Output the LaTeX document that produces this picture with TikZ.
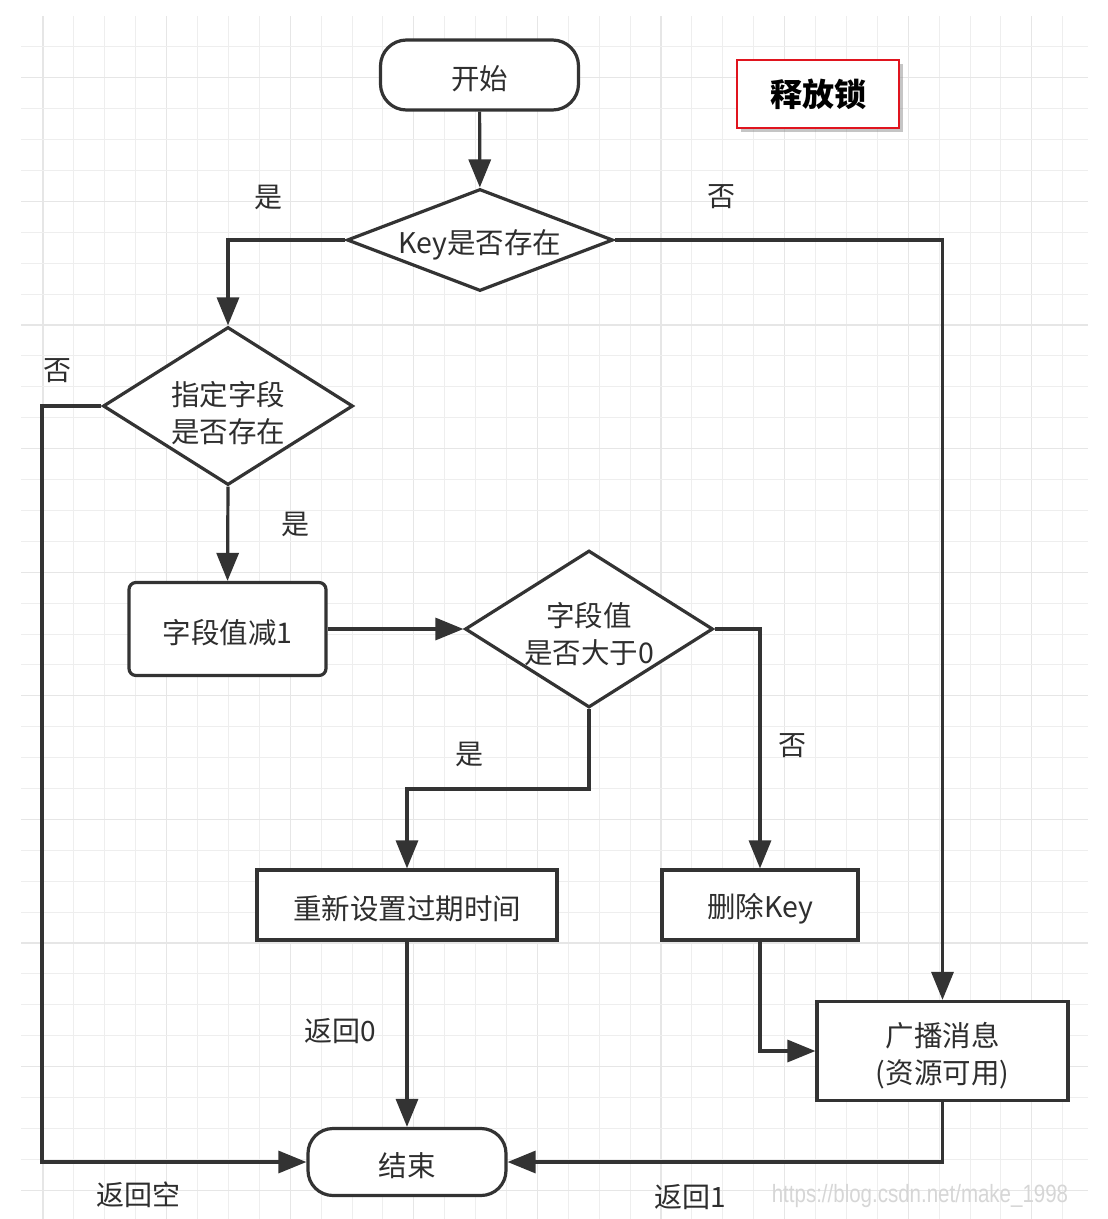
\documentclass[tikz,border=0pt]{standalone}
\usepackage{fontspec}
\setmainfont{Noto Sans CJK SC}
\newfontfamily\wmfont{Liberation Sans}
\usetikzlibrary{arrows.meta,shapes.geometric,shadows}
\definecolor{ln}{HTML}{333333}
\definecolor{txt}{HTML}{2E2E2E}
\definecolor{gridminor}{HTML}{EEEEEE}
\definecolor{gridmajor}{HTML}{E6E6E6}
\definecolor{lockred}{HTML}{E0141E}
\tikzset{
  box/.style={draw=ln, line width=3.2pt, fill=white, inner sep=0pt},
  term/.style={box, rounded corners=26pt},
  proc/.style={box},
  rproc/.style={box, rounded corners=7pt},
  decision/.style={box, shape=diamond},
  tx/.style={text=txt, align=center, inner sep=0pt, font=\fontsize{28.5}{37}\selectfont},
  conn/.style={draw=ln, line width=3.2pt, -{Triangle[length=28pt,width=22pt]}},
  lbl/.style={text=txt, font=\fontsize{28}{32}\selectfont, inner sep=0pt},
}
\begin{document}
\begin{tikzpicture}[x=1pt,y=-1pt]
\useasboundingbox (0,0) rectangle (1108,1219);
\fill[white] (0,0) rectangle (1108,1219);
% grid
\foreach \k in {0,...,33}{
  \pgfmathtruncatemacro{\m}{mod(\k,4)}
  \ifnum\m=0
    \draw[gridmajor, line width=1.1pt] ({43+30.9*\k},16) -- ({43+30.9*\k},1219);
  \else
    \draw[gridminor, line width=1pt] ({43+30.9*\k},16) -- ({43+30.9*\k},1219);
  \fi
}
\foreach \k in {1,...,38}{
  \pgfmathtruncatemacro{\m}{mod(\k+2,4)}
  \ifnum\m=0
    \draw[gridmajor, line width=1.1pt] (21,{16+30.9*\k}) -- (1088,{16+30.9*\k});
  \else
    \draw[gridminor, line width=1pt] (21,{16+30.9*\k}) -- (1088,{16+30.9*\k});
  \fi
}

% shapes
\node[term, minimum width=198pt, minimum height=70pt] (start) at (479.5,75) {};
\node[decision, minimum width=266pt, minimum height=102pt] (key) at (480,240) {};
\node[decision, minimum width=250pt, minimum height=158pt] (fld) at (228,406) {};
\node[rproc, minimum width=197pt, minimum height=93pt] (dec) at (227.5,629) {};
\node[decision, minimum width=248pt, minimum height=157pt] (gt) at (589,629) {};
\node[proc, minimum width=300pt, minimum height=70pt] (reset) at (407,905) {};
\node[proc, minimum width=196pt, minimum height=70pt] (del) at (760,905) {};
\node[proc, minimum width=251pt, minimum height=99pt] (bcast) at (942.5,1051) {};
\node[term, rounded corners=25pt, minimum width=198pt, minimum height=67pt] (end) at (407,1162) {};
\node[draw=lockred, line width=2.4pt, fill=white, minimum width=162pt, minimum height=68pt,
      drop shadow={shadow xshift=4pt, shadow yshift=-4pt, opacity=0.45},
      font=\fontsize{32}{36}\selectfont\bfseries, text=black] (lock) at (818,94) {释放锁};

% texts of the shapes
\node[tx] (start-t) at ([yshift=-4pt]start.center) {开始};
\node[tx] (key-t) at ([yshift=-5pt]key.center) {Key是否存在};
\node[tx] (fld-t) at ([yshift=-7pt]fld.center) {指定字段\\是否存在};
\node[tx] (dec-t) at ([yshift=-4pt]dec.center) {字段值减1};
\node[tx] (gt-t) at ([yshift=-5pt]gt.center) {字段值\\是否大于0};
\node[tx] (reset-t) at ([yshift=-4pt]reset.center) {重新设置过期时间};
\node[tx] (del-t) at ([yshift=-4pt]del.center) {删除Key};
\node[tx] (bcast-t) at ([yshift=-5pt]bcast.center) {广播消息\\(资源可用)};
\node[tx] (end-t) at ([yshift=-4pt]end.center) {结束};

% helper coordinates
\coordinate (lx) at (42,406);
\coordinate (j1) at (589,789);

% connectors
\draw[conn] (start) -- (key);
\draw[conn] (key.west) -| (fld.north);
\draw[conn] (key.east) -| (bcast.north);
\draw[conn] (fld.west) -- (lx) |- (end.west);
\draw[conn] (fld.south) -- (dec.north);
\draw[conn] (dec.east) -- (gt.west);
\draw[conn] (gt.south) -- (j1) -| (reset.north);
\draw[conn] (gt.east) -| (del.north);
\draw[conn] (reset.south) -- (end.north);
\draw[conn] (del.south) |- (bcast.west);
\draw[conn] (bcast.south) |- (end.east);

% labels
\node[lbl] (l1) at (268,197) {是};
\node[lbl] (l2) at (721,197) {否};
\node[lbl] (l3) at (57,371) {否};
\node[lbl] (l4) at (295,524) {是};
\node[lbl] (l5) at (469,754) {是};
\node[lbl] (l6) at (792,746) {否};
\node[lbl] (l7) at (340,1031) {返回0};
\node[lbl] (l8) at (138,1195) {返回空};
\node[lbl] (l9) at (690,1197) {返回1};

% watermark
\node[text=black!16, font=\wmfont\fontsize{25}{28}\selectfont, xscale=0.82, inner sep=0pt] (wm) at (920,1196) {https://blog.csdn.net/make\_1998};
\end{tikzpicture}
\end{document}
